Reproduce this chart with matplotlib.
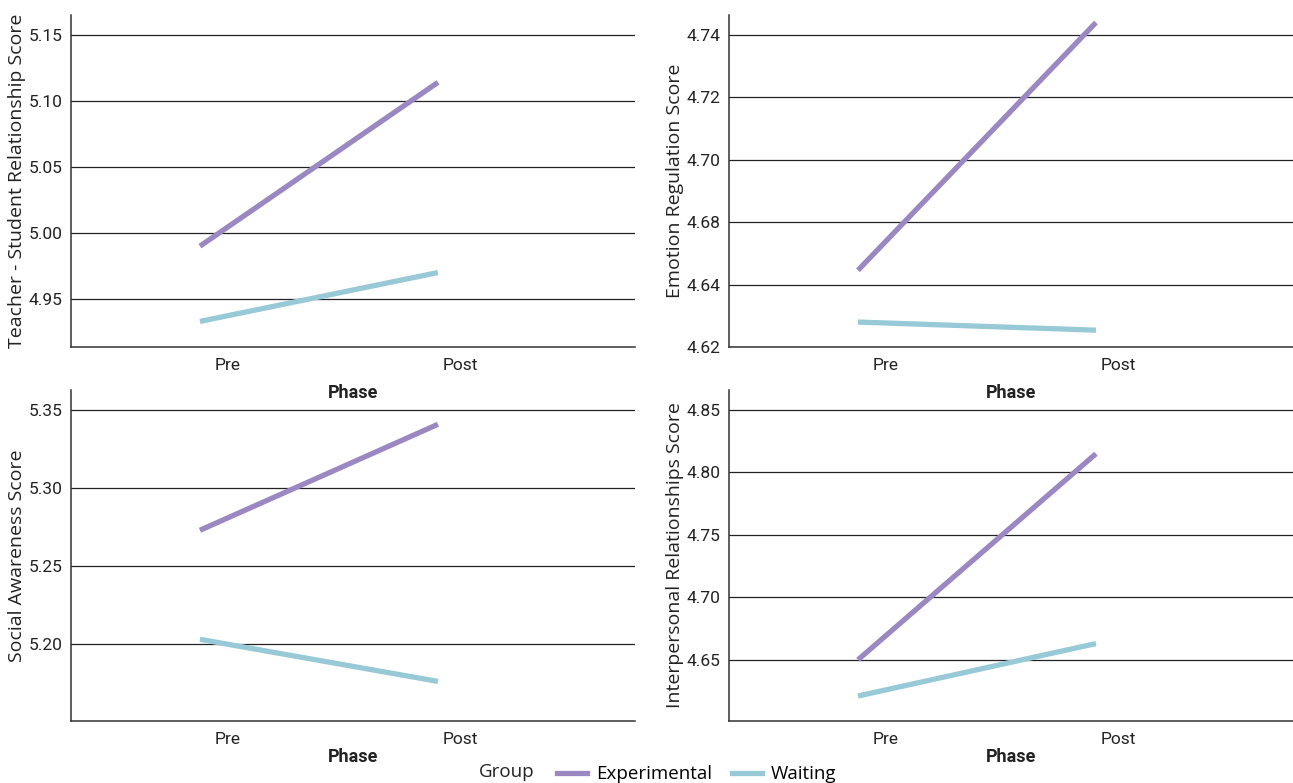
import matplotlib
matplotlib.use("Agg")
import matplotlib.pyplot as plt
from matplotlib.lines import Line2D

plt.rcParams['font.family'] = ['Roboto', 'DejaVu Sans']

# data
phases = ['Pre', 'Post']
groups = ['Experimental', 'Waiting']
colors = {'Experimental': '#9b87c1', 'Waiting': '#97cad6'}

tsr_exp = [4.990, 5.114]
tsr_wait = [4.933, 4.970]
emo_exp = [4.6646, 4.744]
emo_wait = [4.648, 4.6454]
soc_exp = [5.273, 5.341]
soc_wait = [5.203, 5.176]
inter_exp = [4.650, 4.815]
inter_wait = [4.621, 4.663]

tsr_ticks = [4.95, 5.00, 5.05, 5.10, 5.15]
emo_ticks = [4.64, 4.66, 4.68, 4.70, 4.72, 4.74]
emo_ticklabels = ['4.62', '4.64', '4.68', '4.70', '4.72', '4.74']
soc_ticks = [5.20, 5.25, 5.30, 5.35]
inter_ticks = [4.65, 4.70, 4.75, 4.80, 4.85]

panels = [
    ('Teacher - Student Relationship Score', tsr_exp, tsr_wait, tsr_ticks,
     ['%.2f' % t for t in tsr_ticks], (4.9136, 5.165)),
    ('Emotion Regulation Score', emo_exp, emo_wait, emo_ticks,
     emo_ticklabels, (4.64, 4.7464)),
    ('Social Awareness Score', soc_exp, soc_wait, soc_ticks,
     ['%.2f' % t for t in soc_ticks], (5.1506, 5.363)),
    ('Interpersonal Relationships Score', inter_exp, inter_wait, inter_ticks,
     ['%.2f' % t for t in inter_ticks], (4.601, 4.866)),
]

fig = plt.figure(figsize=(12.93, 7.83), dpi=100)
rects = [
    [0.0549, 0.5568, 0.4362, 0.4240],
    [0.5638, 0.5568, 0.4362, 0.4240],
    [0.0549, 0.0792, 0.4362, 0.4227],
    [0.5638, 0.0792, 0.4362, 0.4227],
]
phase_pads = [8, 8, 1, 1]

x = [0, 1]
for i, (rect, (ylabel, exp_vals, wait_vals, ticks, ticklabels, ylim)) in enumerate(zip(rects, panels)):
    ax = fig.add_axes(rect)
    ax.set_facecolor('none')
    for t in ticks:
        ax.axhline(t, color='#222222', lw=0.9, zorder=1)
    ax.plot(x, exp_vals, color=colors['Experimental'], lw=3.8,
            solid_capstyle='butt', zorder=3)
    ax.plot(x, wait_vals, color=colors['Waiting'], lw=3.8,
            solid_capstyle='butt', zorder=3)
    ax.set_xlim(-0.542, 1.828)
    ax.set_ylim(*ylim)
    ax.set_yticks(ticks)
    ax.set_yticklabels(ticklabels)
    ax.set_xticks([0.118, 1.092])
    ax.set_xticklabels(phases)
    ax.tick_params(axis='both', length=0, labelsize=12.5, colors='#222222')
    ax.tick_params(axis='y', pad=6)
    ax.tick_params(axis='x', pad=8)
    for s in ['top', 'right']:
        ax.spines[s].set_visible(False)
    for s in ['left', 'bottom']:
        ax.spines[s].set_color('#333333')
        ax.spines[s].set_linewidth(1.1)
    ax.set_ylabel(ylabel, fontsize=14, family=['Open Sans', 'DejaVu Sans'],
                  color='#222222', labelpad=2)
    ax.set_xlabel('Phase', fontsize=13, fontweight='bold', color='#222222',
                  labelpad=phase_pads[i])

handles = [Line2D([0], [0], color=colors[g], lw=3.8) for g in groups]
fig.text(0.370, 0.003, 'Group', fontsize=13.5, family=['Open Sans', 'DejaVu Sans'],
         color='#222222', va='bottom')
fig.legend(handles, groups, loc='lower left', bbox_to_anchor=(0.418, -0.022),
           ncol=2, frameon=False, handlelength=1.6, handletextpad=0.45,
           columnspacing=1.1, prop={'family': ['Open Sans', 'DejaVu Sans'], 'size': 13.5})

fig.savefig('out.png', dpi=100)
